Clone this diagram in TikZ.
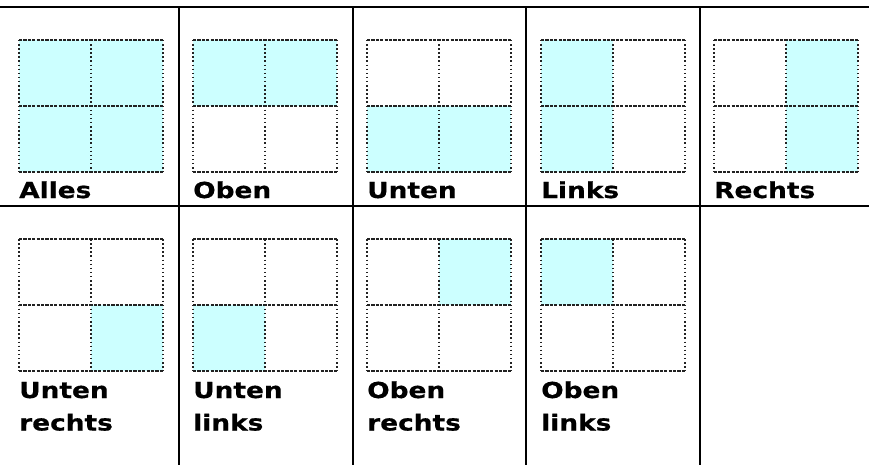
\documentclass[tikz,border=0pt]{standalone}
\usepackage{fontspec}
\newfontfamily\lblfont[FakeStretch=1.2,FakeBold=0.6]{DejaVu Sans Bold}
\definecolor{cyanfill}{HTML}{CCFFFF}
\definecolor{gridgray}{HTML}{222222}
\tikzset{
  hdash/.style={draw=gridgray, line width=1.4pt, dash pattern=on 3.2pt off 1.2pt},
  vdot/.style={draw=gridgray, line width=1.6pt, dash pattern=on 1.5pt off 2.6pt},
  tablerule/.style={draw=black, line width=2pt},
  lab/.style={anchor=base west, inner sep=0pt, align=left,
              font=\lblfont\fontsize{22}{32.5}\selectfont},
}
\newcommand\quadgrid[3]{%
  \foreach \i/\j in {#3} \fill[cyanfill] (#1+\i*72, #2+\j*66) rectangle ++(72,66);
  \foreach \k in {0,1,2} \draw[hdash] (#1, #2+\k*66) -- ++(144,0);
  \foreach \k in {0,1,2} \draw[vdot] (#1+\k*72, #2) -- ++(0,132);
}
\begin{document}
\begin{tikzpicture}[x=1pt,y=-1pt]
\useasboundingbox (0,0) rectangle (869,465);
% row 1
\quadgrid{19}{40}{0/0,1/0,0/1,1/1}
\quadgrid{193}{40}{0/0,1/0}
\quadgrid{367}{40}{0/1,1/1}
\quadgrid{541}{40}{0/0,0/1}
\quadgrid{714}{40}{1/0,1/1}
% row 2
\quadgrid{19}{239}{1/1}
\quadgrid{193}{239}{0/1}
\quadgrid{367}{239}{1/0}
\quadgrid{541}{239}{0/0}
% labels
\node[lab] (alles) at (19,198) {Alles};
\node[lab] (oben) at (193,198) {Oben};
\node[lab] (unten) at (367,198) {Unten};
\node[lab] (links) at (541,198) {Links};
\node[lab] (rechts) at (714,198) {Rechts};
\node[lab] (ur) at (19,430.5) {Unten\\rechts};
\node[lab] (ul) at (193,430.5) {Unten\\links};
\node[lab] (or) at (367,430.5) {Oben\\rechts};
\node[lab] (ol) at (541,430.5) {Oben\\links};
% table rules
\coordinate (tl) at (0,7);
\coordinate (tr) at (869,7);
\coordinate (ml) at (0,206);
\coordinate (mr) at (869,206);
\draw[tablerule] (tl) -- (tr);
\draw[tablerule] (ml) -- (mr);
\foreach \x in {179,353,526,700} \draw[tablerule] (\x,7) -- (\x,465);
\end{tikzpicture}
\end{document}
